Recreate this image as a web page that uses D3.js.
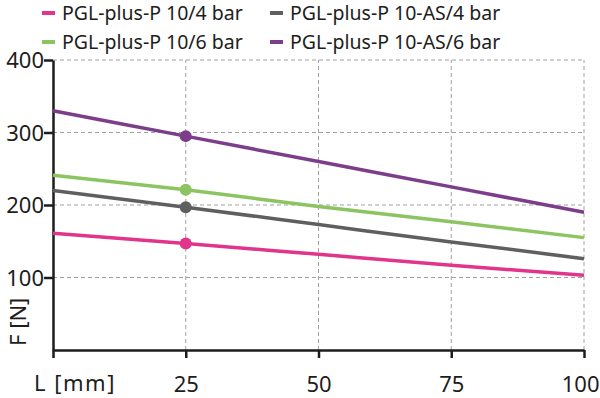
<!DOCTYPE html>
<html>
<head>
<meta charset="utf-8">
<script src="https://cdn.jsdelivr.net/npm/d3@7"></script>
<style>
  body { margin: 0; background: #fff; }
  svg { font-family: "Noto Sans", sans-serif; }
</style>
</head>
<body>
<div id="chart"></div>
<script>
// values
var lengths = [0, 25, 50, 75, 100];
var seriesNames = ["PGL-plus-P 10/4 bar", "PGL-plus-P 10-AS/4 bar", "PGL-plus-P 10/6 bar", "PGL-plus-P 10-AS/6 bar"];
var p10bar4 = [161, 147, 132, 117, 103];
var as10bar4 = [220, 197, 173, 149, 126];
var p10bar6 = [241, 221, 198, 177, 155];
var as10bar6 = [330, 295, 260, 225, 190];
var seriesColors = ["#e0358b", "#5f5f5f", "#8cc461", "#7c3e8b"];
var xTicks = [25, 50, 75, 100];
var yTicks = [100, 200, 300, 400];
var markerAt = 25;

var allSeries = [p10bar4, as10bar4, p10bar6, as10bar6];

var width = 600, height = 398;
var svg = d3.select("#chart").append("svg")
    .attr("width", width)
    .attr("height", height);

var x = d3.scaleLinear().domain([0, 100]).range([53, 584]);
var y = d3.scaleLinear().domain([0, 400]).range([350, 60]);

// grid
svg.append("g").selectAll("line.h")
  .data(yTicks).enter().append("line")
    .attr("x1", x(0)).attr("x2", x(100))
    .attr("y1", function(d) { return y(d); })
    .attr("y2", function(d) { return y(d); })
    .attr("stroke", "#a0a0a0").attr("stroke-width", 1)
    .attr("stroke-dasharray", "4,3");
svg.append("g").selectAll("line.v")
  .data(xTicks).enter().append("line")
    .attr("y1", y(0)).attr("y2", y(400))
    .attr("x1", function(d) { return x(d); })
    .attr("x2", function(d) { return x(d); })
    .attr("stroke", "#a0a0a0").attr("stroke-width", 1)
    .attr("stroke-dasharray", "4,3");

// axes
var xAxis = svg.append("g")
    .attr("transform", "translate(0," + y(0) + ")")
    .call(d3.axisBottom(x).tickValues([0].concat(xTicks)).tickSize(8).tickSizeOuter(0).tickFormat(function(d) { return d === 0 ? "" : d; }));
var yAxis = svg.append("g")
    .attr("transform", "translate(" + x(0) + ",0)")
    .call(d3.axisLeft(y).tickValues(yTicks).tickSize(9).tickSizeOuter(0));

[xAxis, yAxis].forEach(function(a) {
  a.select(".domain").attr("stroke", "#1d1d1b").attr("stroke-width", 2.5);
  a.selectAll(".tick line").attr("stroke", "#1d1d1b").attr("stroke-width", 2.5);
  a.selectAll("text").attr("fill", "#1d1d1b").style("font-size", "22px").style("font-family", "Noto Sans");
});
xAxis.selectAll("text").attr("dy", 0).attr("y", 42);
// last label sits against the right edge
xAxis.selectAll(".tick text").filter(function(d) { return d === 100; })
    .attr("text-anchor", "end").attr("x", 599 - x(100));
yAxis.selectAll("text").attr("x", -9).attr("dy", "0.35em");

// axis titles
svg.append("text")
    .attr("x", 34).attr("y", 391)
    .attr("fill", "#1d1d1b").style("font-size", "22px")
    .style("letter-spacing", "1.5px")
    .text("L [mm]");
svg.append("text")
    .attr("transform", "translate(26,346) rotate(-90)")
    .attr("fill", "#1d1d1b").style("font-size", "22px")
    .text("F [N]");

// lines
var line = d3.line()
    .x(function(d, i) { return x(lengths[i]); })
    .y(function(d) { return y(d); })
    .curve(d3.curveMonotoneX);

allSeries.forEach(function(s, i) {
  svg.append("path")
      .datum(s)
      .attr("d", line)
      .attr("fill", "none")
      .attr("stroke", seriesColors[i])
      .attr("stroke-width", 3.5);
  var k = lengths.indexOf(markerAt);
  svg.append("circle")
      .attr("cx", x(markerAt))
      .attr("cy", y(s[k]))
      .attr("r", 6)
      .attr("fill", seriesColors[i]);
});

// legend
var legend = svg.append("g").selectAll("g")
  .data(seriesNames).enter().append("g")
    .attr("transform", function(d, i) {
      return "translate(" + (i % 2 === 0 ? 42 : 270) + "," + (i < 2 ? 13 : 42) + ")";
    });
legend.append("line")
    .attr("x1", 0).attr("x2", 13)
    .attr("stroke", function(d, i) { return seriesColors[i]; })
    .attr("stroke-width", 4);
legend.append("text")
    .attr("x", 20).attr("dy", "0.35em")
    .attr("fill", "#1d1d1b").style("font-size", "19.5px")
    .text(function(d) { return d; });
</script>
</body>
</html>
